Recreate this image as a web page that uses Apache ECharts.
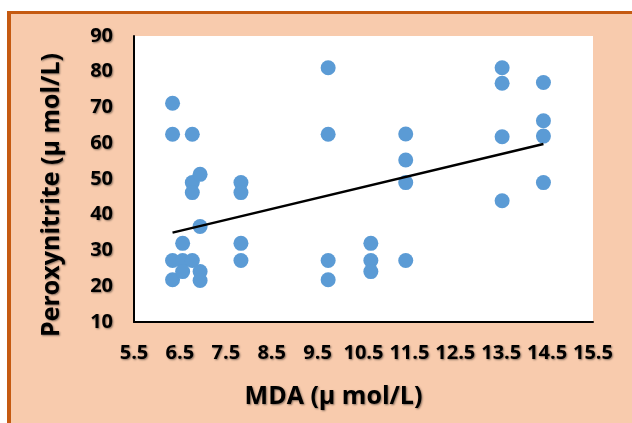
<!DOCTYPE html>
<html>
<head>
<meta charset="utf-8">
<script src="https://cdn.jsdelivr.net/npm/echarts@6/dist/echarts.min.js"></script>
<style>html,body{margin:0;padding:0;background:#fff}#c{width:632px;height:423px}</style>
</head>
<body>
<div id="c"></div>
<script>
// Data
var mdaValues = [
  6.34, 6.34, 6.34, 6.34,
  6.56, 6.56, 6.56,
  6.77, 6.77, 6.77, 6.77,
  6.94, 6.94, 6.94, 6.94,
  7.83, 7.83, 7.83, 7.83,
  9.73, 9.73, 9.73, 9.73,
  10.66, 10.66, 10.66,
  11.42, 11.42, 11.42, 11.42,
  13.52, 13.52, 13.52, 13.52,
  14.42, 14.42, 14.42, 14.42
];
var peroxynitriteValues = [
  71.2, 62.5, 27.2, 21.8,
  32.0, 27.2, 24.1,
  62.5, 49.0, 46.2, 27.2,
  51.3, 36.7, 24.1, 21.6,
  49.0, 46.2, 32.0, 27.2,
  81.1, 62.5, 27.2, 21.8,
  32.0, 27.2, 24.1,
  62.6, 55.3, 49.0, 27.2,
  81.1, 76.8, 61.8, 43.9,
  77.0, 66.3, 62.0, 49.0
];
var trendX = [6.34, 14.42];
var trendY = [35.0, 59.8];
var xTicks = [5.5, 6.5, 7.5, 8.5, 9.5, 10.5, 11.5, 12.5, 13.5, 14.5, 15.5];
var yTicks = [10, 20, 30, 40, 50, 60, 70, 80, 90];

var points = mdaValues.map(function (x, i) { return [x, peroxynitriteValues[i]]; });
var trend = trendX.map(function (x, i) { return [x, trendY[i]]; });

var shadow = {
  textShadowColor: 'rgba(0,0,0,0.45)',
  textShadowBlur: 2,
  textShadowOffsetX: 1,
  textShadowOffsetY: 1
};
var tickFont = Object.assign({
  color: '#000', fontFamily: 'Open Sans', fontWeight: 'bold', fontSize: 20
}, shadow);
function titleFont(pad) {
  return Object.assign({
    color: '#000', fontFamily: 'Open Sans', fontWeight: 'bold', fontSize: 25, padding: pad
  }, shadow);
}

var chart = echarts.init(document.getElementById('c'), null, { renderer: 'canvas' });
chart.setOption({
  backgroundColor: '#F8CBAD',
  animation: false,
  graphic: [
    { type: 'rect', shape: { x: 0, y: 0, width: 632, height: 11 }, style: { fill: '#fff' }, silent: true },
    { type: 'rect', shape: { x: 0, y: 0, width: 7, height: 423 }, style: { fill: '#fff' }, silent: true },
    { type: 'rect', shape: { x: 7, y: 11, width: 625, height: 3 }, style: { fill: '#C55A11' }, silent: true },
    { type: 'rect', shape: { x: 7, y: 11, width: 4, height: 412 }, style: { fill: '#C55A11' }, silent: true }
  ],
  grid: {
    left: 134, top: 36, right: 39, bottom: 101,
    show: true, backgroundColor: '#fff', borderWidth: 0
  },
  xAxis: {
    type: 'value', min: xTicks[0], max: xTicks[xTicks.length - 1],
    name: 'MDA (μ mol/L)', nameLocation: 'middle', nameGap: 62,
    nameTextStyle: titleFont([0, 60, 0, 0]),
    axisLine: { show: true, lineStyle: { color: '#000', width: 2 } },
    axisTick: { show: false },
    splitLine: { show: false },
    axisLabel: Object.assign({
      margin: 21, customValues: xTicks,
      formatter: function (v) { return v.toFixed(1); }
    }, tickFont)
  },
  yAxis: {
    type: 'value', min: yTicks[0], max: yTicks[yTicks.length - 1], interval: 10,
    name: 'Peroxynitrite (μ mol/L)', nameLocation: 'middle', nameGap: 70,
    nameTextStyle: titleFont([0, 32, 0, 0]),
    axisLine: { show: true, lineStyle: { color: '#000', width: 2 } },
    axisTick: { show: false },
    splitLine: { show: false },
    axisLabel: Object.assign({ margin: 21 }, tickFont)
  },
  series: [
    {
      type: 'scatter', data: points, symbolSize: 15,
      itemStyle: { color: '#5B9BD5', opacity: 1 }
    },
    {
      type: 'line', data: trend, showSymbol: false, symbol: 'none',
      lineStyle: { color: '#000', width: 2.5 }, z: 3
    }
  ]
});
</script>
</body>
</html>
